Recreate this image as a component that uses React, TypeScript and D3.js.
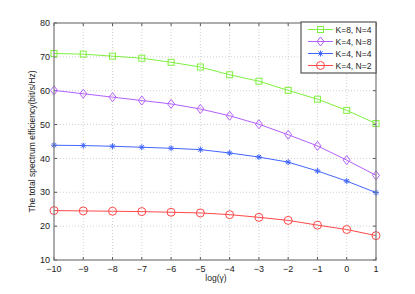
import React from 'react';
import * as d3 from 'd3';

const xValues = [-10, -9, -8, -7, -6, -5, -4, -3, -2, -1, 0, 1];
const k8n4 = [71.0, 70.8, 70.2, 69.6, 68.4, 67.0, 64.7, 62.8, 60.1, 57.5, 54.2, 50.3];
const k4n8 = [60.1, 59.1, 58.1, 57.1, 56.1, 54.6, 52.6, 50.1, 47.0, 43.7, 39.5, 35.0];
const k4n4 = [43.9, 43.8, 43.6, 43.3, 43.0, 42.6, 41.6, 40.4, 38.9, 36.3, 33.3, 29.9];
const k4n2 = [24.6, 24.5, 24.4, 24.3, 24.1, 23.9, 23.4, 22.6, 21.7, 20.3, 19.0, 17.2];
const yTicks = [10, 20, 30, 40, 50, 60, 70, 80];
const seriesNames = ['K=8, N=4', 'K=4, N=8', 'K=4, N=4', 'K=4, N=2'];

const W = 415;
const H = 294;
const left = 54;
const right = 376;
const top = 23;
const bottom = 260;

const x = d3.scaleLinear().domain([-10, 1]).range([left, right]);
const y = d3.scaleLinear().domain([10, 80]).range([bottom, top]);

const series = [
  { name: seriesNames[0], values: k8n4, color: '#80f040', marker: 'square' },
  { name: seriesNames[1], values: k4n8, color: '#b460ff', marker: 'diamond' },
  { name: seriesNames[2], values: k4n4, color: '#4266ff', marker: 'star' },
  { name: seriesNames[3], values: k4n2, color: '#ff4848', marker: 'circle' },
];

const fmt = (v: number) => (v < 0 ? '\u2212' + Math.abs(v) : String(v));

function Marker({ type, cx, cy, color }: { type: string; cx: number; cy: number; color: string }) {
  if (type === 'square') {
    return <rect x={cx - 3} y={cy - 3} width={6} height={6} fill="none" stroke={color} strokeWidth={1} />;
  }
  if (type === 'diamond') {
    return (
      <path
        d={`M${cx},${cy - 4.5}L${cx + 3.5},${cy}L${cx},${cy + 4.5}L${cx - 3.5},${cy}Z`}
        fill="none"
        stroke={color}
        strokeWidth={1}
      />
    );
  }
  if (type === 'circle') {
    return <circle cx={cx} cy={cy} r={4} fill="none" stroke={color} strokeWidth={1} />;
  }
  // asterisk
  const r = 3;
  const d = r * 0.7;
  return (
    <path
      d={`M${cx - r},${cy}L${cx + r},${cy}M${cx},${cy - r}L${cx},${cy + r}M${cx - d},${cy - d}L${cx + d},${cy + d}M${cx - d},${cy + d}L${cx + d},${cy - d}`}
      stroke={color}
      strokeWidth={1}
    />
  );
}

export default function App() {
  const line = d3
    .line<number>()
    .x((d, i) => x(xValues[i]))
    .y(d => y(d));

  const legendX = 301;
  const legendY = 22;
  const legendRows = [29.5, 41.5, 53.5, 65.5];

  return (
    <svg width={W} height={H} style={{ position: 'absolute', left: 0, top: 0, background: '#fff' }}
      fontFamily="'Liberation Sans', Arial, sans-serif">
      {/* grid */}
      {xValues.slice(1, -1).map(v => (
        <line key={'gx' + v} x1={x(v)} x2={x(v)} y1={top} y2={bottom} stroke="#b0b0b0" strokeWidth={0.6} strokeDasharray="1,2" />
      ))}
      {yTicks.slice(1, -1).map(v => (
        <line key={'gy' + v} x1={left} x2={right} y1={y(v)} y2={y(v)} stroke="#b0b0b0" strokeWidth={0.6} strokeDasharray="1,2" />
      ))}
      {/* ticks */}
      {xValues.map(v => (
        <g key={'tx' + v}>
          <line x1={x(v)} x2={x(v)} y1={bottom} y2={bottom - 3} stroke="#555" />
          <line x1={x(v)} x2={x(v)} y1={top} y2={top + 3} stroke="#555" />
          <text x={x(v)} y={272} fontSize={9} textAnchor="middle" fill="#222">{fmt(v)}</text>
        </g>
      ))}
      {yTicks.map(v => (
        <g key={'ty' + v}>
          <line x1={left} x2={left + 3} y1={y(v)} y2={y(v)} stroke="#555" />
          <line x1={right} x2={right - 3} y1={y(v)} y2={y(v)} stroke="#555" />
          <text x={50} y={y(v) + 3.2} fontSize={9} textAnchor="end" fill="#222">{v}</text>
        </g>
      ))}
      {/* series */}
      {series.map(s => (
        <g key={s.name}>
          <path d={line(s.values) || ''} fill="none" stroke={s.color} strokeWidth={1} />
          {s.values.map((v, i) => (
            <Marker key={i} type={s.marker} cx={x(xValues[i])} cy={y(v)} color={s.color} />
          ))}
        </g>
      ))}
      {/* box */}
      <rect x={left} y={top} width={right - left} height={bottom - top} fill="none" stroke="#777" strokeWidth={1.2} />
      {/* legend */}
      <rect x={legendX} y={legendY} width={right - legendX} height={73 - legendY} fill="#fff" stroke="#555" strokeWidth={1.2} />
      {series.map((s, i) => (
        <g key={'lg' + s.name}>
          <line x1={308} x2={333} y1={legendRows[i]} y2={legendRows[i]} stroke={s.color} strokeWidth={1} />
          <Marker type={s.marker} cx={320.5} cy={legendRows[i]} color={s.color} />
          <text x={335.5} y={legendRows[i] + 3.2} fontSize={8.5} fill="#222">{s.name}</text>
        </g>
      ))}
      {/* axis labels */}
      <text x={216} y={281} fontSize={8.5} textAnchor="middle" fill="#222">log(γ)</text>
      <text transform={`translate(35,${(top + bottom) / 2}) rotate(-90)`} fontSize={8.5} textAnchor="middle" fill="#222">
        The total spectrum efficiency(bit/s/Hz)
      </text>
    </svg>
  );
}
